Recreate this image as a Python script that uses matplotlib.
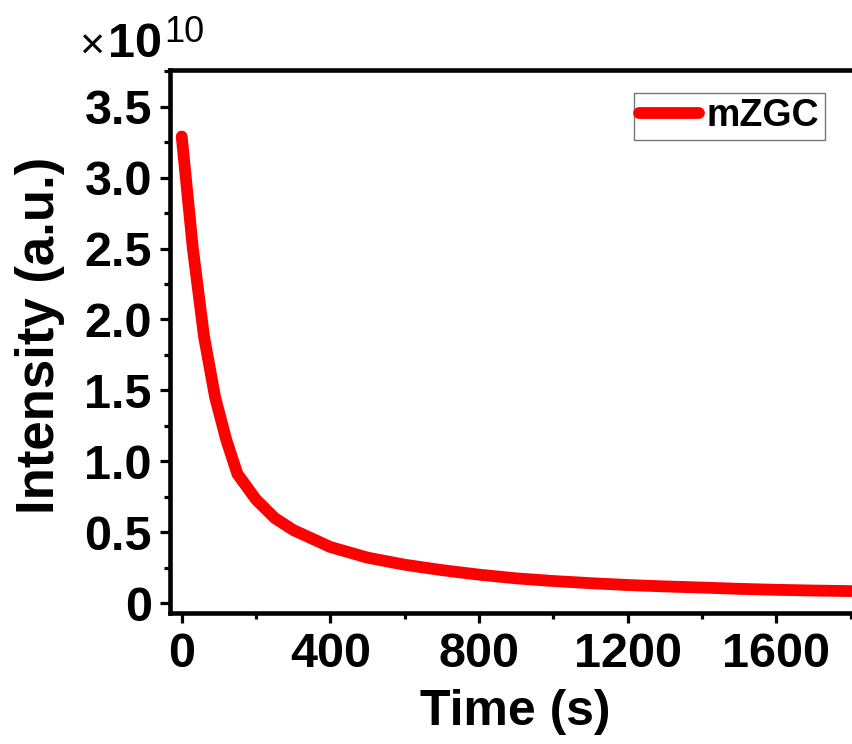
import matplotlib
matplotlib.use("Agg")
import matplotlib.pyplot as plt
from matplotlib.ticker import MultipleLocator, FuncFormatter

plt.rcParams["font.family"] = ["Liberation Sans", "DejaVu Sans"]
plt.rcParams["font.weight"] = "bold"

# decay curve (intensity in units of 1e10)
time_s = [0, 30, 60, 90, 120, 150, 200, 250, 300, 400, 500, 600, 700, 800,
          900, 1000, 1100, 1200, 1300, 1400, 1500, 1600, 1700, 1800]
intensity = [3.29, 2.50, 1.88, 1.45, 1.15, 0.91, 0.73, 0.60, 0.515, 0.395,
             0.32, 0.27, 0.232, 0.20, 0.174, 0.155, 0.14, 0.127, 0.117,
             0.109, 0.100, 0.093, 0.088, 0.084]
series_name = "mZGC"

W, H = 852, 744
fig = plt.figure(figsize=(W / 100, H / 100), dpi=100)
ax = fig.add_axes([170 / W, 1 - 613 / H, (W - 170) / W, (613 - 70) / H])

ax.plot(time_s, intensity, color="#ff0000", lw=8.5,
        solid_capstyle="round", solid_joinstyle="round", label=series_name)

ax.set_xlim(-31.5, 1804)
ax.set_ylim(-0.0705, 3.759)

ax.xaxis.set_major_locator(MultipleLocator(400))
ax.xaxis.set_minor_locator(MultipleLocator(200))
ax.yaxis.set_major_locator(MultipleLocator(0.5))
ax.yaxis.set_minor_locator(MultipleLocator(0.25))
ax.yaxis.set_major_formatter(FuncFormatter(lambda v, p: "0" if abs(v) < 1e-9 else f"{v:.1f}"))

for side in ["left", "bottom", "top"]:
    ax.spines[side].set_linewidth(3.3)
ax.spines["right"].set_visible(False)

ax.tick_params(which="major", direction="out", length=7, width=2.3,
               labelsize=35, pad=6)
ax.tick_params(which="minor", direction="out", length=4, width=2.3)
ax.tick_params(axis="x", which="major", pad=7)
for lab in ax.get_xticklabels() + ax.get_yticklabels():
    lab.set_fontweight("bold")

ax.set_xlabel("Time (s)", fontsize=36, fontweight="bold", va="center")
ax.set_ylabel("Intensity (a.u.)", fontsize=38, fontweight="bold", va="center")
ax.xaxis.set_label_coords(0.506, -0.182)
ax.yaxis.set_label_coords(-0.191, 0.512)

leg = ax.legend(loc="upper right", bbox_to_anchor=((825 - 170) / (W - 170), 1 - (92.7 - 70) / 543),
                fontsize=27, frameon=True, fancybox=False, handlelength=1.6,
                handletextpad=0.2, borderpad=0.15, borderaxespad=0)
leg.get_frame().set_edgecolor("#555555")
leg.get_frame().set_linewidth(1.0)
for t in leg.get_texts():
    t.set_fontweight("bold")

# Origin-style multiplier above the y axis
fig.text(79 / W, 1 - 59 / H, "\u00d7", fontsize=31, fontweight="normal", va="baseline")
fig.text(108 / W, 1 - 57 / H, "10", fontsize=35, fontweight="bold", va="baseline")
fig.text(164 / W, 1 - 42 / H, "10", fontsize=26, fontweight="normal", va="baseline")

fig.savefig("out.png", dpi=100)
